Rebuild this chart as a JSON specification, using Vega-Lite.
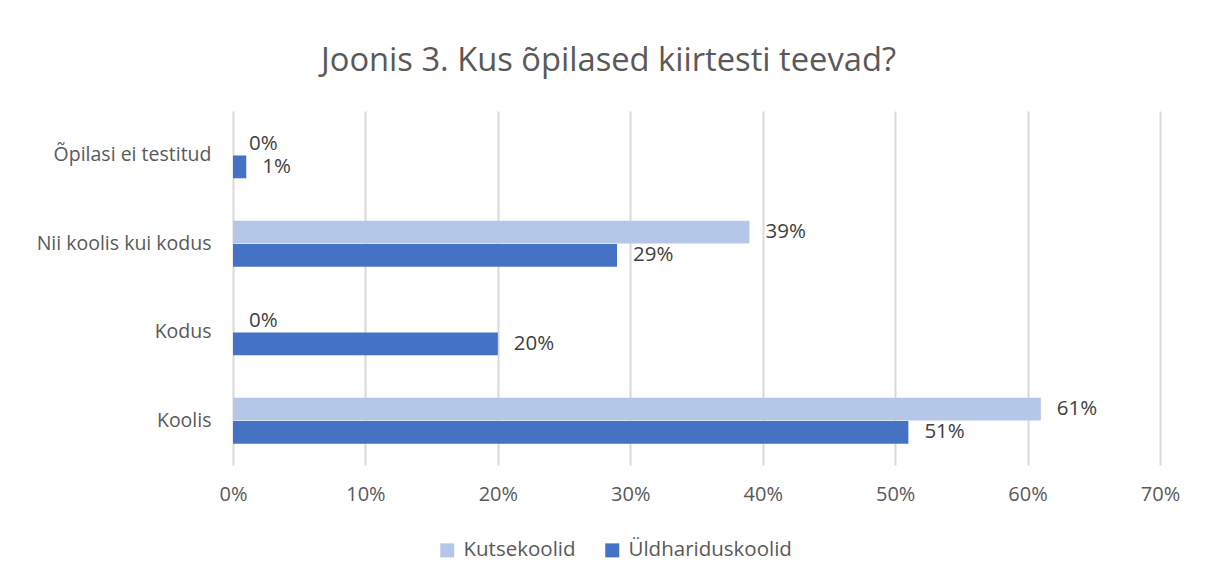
{
  "$schema": "https://vega.github.io/schema/vega-lite/v6.json",
  "autosize": {"type": "none"},
  "width": 927,
  "height": 354,
  "padding": {"left": 233, "top": 111, "right": 46, "bottom": 114},
  "background": "white",
  "title": {
    "text": "Joonis 3. Kus õpilased kiirtesti teevad?",
    "font": "Open Sans",
    "fontSize": 32.7,
    "fontWeight": "normal",
    "color": "#595959",
    "anchor": "middle",
    "dx": -88,
    "offset": 33
  },
  "config": {
    "view": {"stroke": null},
    "font": "Open Sans"
  },
  "data": {
    "values": [
      {"cat": "Õpilasi ei testitud", "series": "Kutsekoolid", "value": 0.0},
      {"cat": "Õpilasi ei testitud", "series": "Üldhariduskoolid", "value": 0.01},
      {"cat": "Nii koolis kui kodus", "series": "Kutsekoolid", "value": 0.39},
      {"cat": "Nii koolis kui kodus", "series": "Üldhariduskoolid", "value": 0.29},
      {"cat": "Kodus", "series": "Kutsekoolid", "value": 0.0},
      {"cat": "Kodus", "series": "Üldhariduskoolid", "value": 0.20},
      {"cat": "Koolis", "series": "Kutsekoolid", "value": 0.61},
      {"cat": "Koolis", "series": "Üldhariduskoolid", "value": 0.51}
    ]
  },
  "encoding": {
    "y": {
      "field": "cat",
      "type": "nominal",
      "sort": ["Õpilasi ei testitud", "Nii koolis kui kodus", "Kodus", "Koolis"],
      "scale": {"paddingInner": 0.48, "paddingOuter": 0.24},
      "axis": {
        "title": null,
        "domain": false,
        "ticks": false,
        "labelFontSize": 19.5,
        "labelColor": "#595959",
        "labelPadding": 22,
        "labelFont": "Open Sans"
      }
    },
    "yOffset": {
      "field": "series",
      "type": "nominal",
      "sort": ["Kutsekoolid", "Üldhariduskoolid"],
      "scale": {"paddingInner": 0.02, "paddingOuter": 0}
    },
    "x": {
      "field": "value",
      "type": "quantitative",
      "scale": {"domain": [0, 0.7], "nice": false},
      "axis": {
        "title": null,
        "format": ".0%",
        "values": [0, 0.1, 0.2, 0.3, 0.4, 0.5, 0.6, 0.7],
        "domain": false,
        "ticks": false,
        "grid": true,
        "gridColor": "#d9d9d9",
        "gridWidth": 2,
        "labelFlush": false,
        "labelFontSize": 20,
        "labelColor": "#595959",
        "labelPadding": 19,
        "labelFont": "Open Sans"
      }
    }
  },
  "layer": [
    {
      "mark": {"type": "bar"},
      "encoding": {
        "color": {
          "field": "series",
          "type": "nominal",
          "sort": ["Kutsekoolid", "Üldhariduskoolid"],
          "scale": {"domain": ["Kutsekoolid", "Üldhariduskoolid"], "range": ["#B4C7E7", "#4472C4"]},
          "legend": {
            "title": null,
            "orient": "none",
            "direction": "horizontal",
            "legendX": 204,
            "legendY": 429,
            "symbolType": "square",
            "symbolSize": 196,
            "symbolStrokeWidth": 0,
            "labelFontSize": 20.5,
            "labelLimit": 400,
            "labelColor": "#595959",
            "labelFont": "Open Sans",
            "columnPadding": 26,
            "labelOffset": 6
          }
        }
      }
    },
    {
      "mark": {"type": "text", "align": "left", "baseline": "middle", "dx": 16, "fontSize": 20.5, "color": "#404040", "font": "Open Sans"},
      "encoding": {
        "text": {"field": "value", "type": "quantitative", "format": ".0%"}
      }
    }
  ]
}
